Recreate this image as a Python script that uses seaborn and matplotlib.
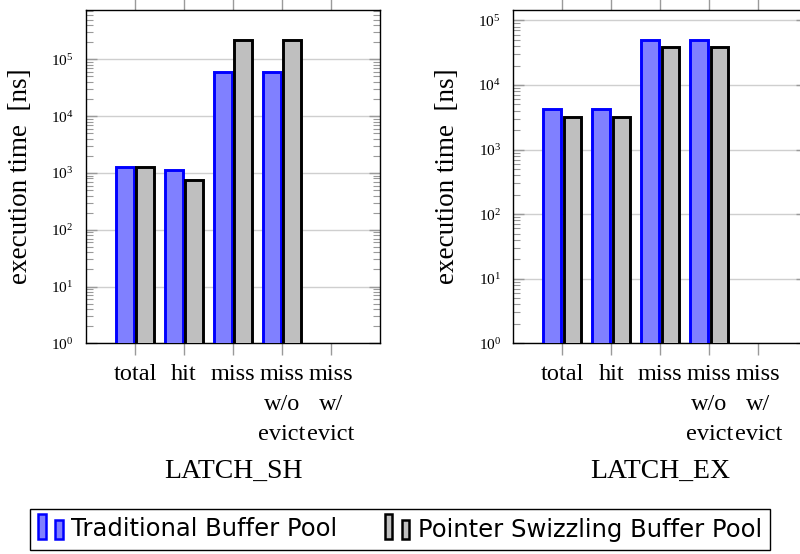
import numpy as np
import pandas as pd
import seaborn as sns
import matplotlib
matplotlib.use("Agg")
import matplotlib.pyplot as plt
from matplotlib.patches import Rectangle
from matplotlib.legend_handler import HandlerBase
from matplotlib.ticker import LogLocator, LogFormatterMathtext, NullFormatter

# ---- data -------------------------------------------------------------
categories = ["total", "hit", "miss", "miss\nw/o\nevict", "miss\nw/\nevict"]
pools = ["Traditional Buffer Pool", "Pointer Swizzling Buffer Pool"]

latch_sh_traditional = [1270, 1110, 59700, 59700, np.nan]
latch_sh_swizzling = [1270, 760, 216000, 216000, np.nan]

latch_ex_traditional = [4200, 4200, 50000, 50000, np.nan]
latch_ex_swizzling = [3230, 3230, 38400, 38400, np.nan]

panel_titles = ["LATCH_SH", "LATCH_EX"]

# ---- style ------------------------------------------------------------
sns.set_style("white")
plt.rcParams["font.family"] = ["Liberation Serif", "DejaVu Serif"]
plt.rcParams["mathtext.fontset"] = "custom"
plt.rcParams["mathtext.rm"] = "Liberation Serif"
plt.rcParams["mathtext.it"] = "Liberation Serif:italic"
plt.rcParams["text.color"] = "black"
plt.rcParams["axes.labelcolor"] = "black"

fill_colors = ["#8080ff", "#bfbfbf"]
edge_colors = ["#0000ff", "#000000"]
tick_gray = "#9a9a9a"


def panel_frame(trad, swz):
    df = pd.DataFrame({
        "operation": categories * 2,
        "time": list(trad) + list(swz),
        "pool": [pools[0]] * len(categories) + [pools[1]] * len(categories),
    })
    return df.dropna()


class PairedBarHandler(HandlerBase):
    """Legend key drawn as a pair of small bars."""

    def create_artists(self, legend, orig_handle, xdescent, ydescent,
                       width, height, fontsize, trans):
        fc = orig_handle.get_facecolor()
        ec = orig_handle.get_edgecolor()
        bw = width * 0.3
        x0 = -xdescent
        y0 = -ydescent - height * 0.15
        r1 = Rectangle((x0, y0), bw, height * 1.45, facecolor=fc,
                       edgecolor=ec, linewidth=1.8, transform=trans)
        r2 = Rectangle((x0 + width * 0.66, y0), bw, height * 1.12,
                       facecolor=fc, edgecolor=ec, linewidth=1.8,
                       transform=trans)
        return [r1, r2]


fig = plt.figure(figsize=(8.0, 5.54), dpi=100)

ax_w = 294 / 800
ax_b = 1 - 343.3 / 554
ax_h = (343.3 - 10) / 554
panels = [
    (86 / 800, latch_sh_traditional, latch_sh_swizzling, 7.4e5),
    (513.3 / 800, latch_ex_traditional, latch_ex_swizzling, 1.45e5),
]

for (x0, trad, swz, ytop), title in zip(panels, panel_titles):
    ax = fig.add_axes([x0, ax_b, ax_w, ax_h])
    df = panel_frame(trad, swz)
    sns.barplot(data=df, x="operation", y="time", hue="pool",
                order=categories, hue_order=pools, palette=fill_colors,
                saturation=1, width=0.84, gap=0.14, errorbar=None,
                legend=False, ax=ax, zorder=3)
    for container, ec in zip(ax.containers, edge_colors):
        for bar in container:
            bar.set_edgecolor(ec)
            bar.set_linewidth(2.1)

    ax.set_yscale("log")
    ax.set_xlim(-1, 5)
    ax.set_ylim(1, ytop)
    ax.set_axisbelow(True)
    ax.yaxis.grid(True, which="major", color="#cfcfcf", linewidth=1.0)
    ax.xaxis.grid(False)

    ax.yaxis.set_major_locator(LogLocator(base=10, numticks=12))
    ax.yaxis.set_major_formatter(LogFormatterMathtext())
    ax.yaxis.set_minor_locator(LogLocator(base=10, subs=np.arange(2, 10), numticks=12))
    ax.yaxis.set_minor_formatter(NullFormatter())

    ax.tick_params(axis="x", which="major", direction="out", top=True,
                   bottom=True, length=8.6, width=1.0, color=tick_gray,
                   labelcolor="black", labelsize=17.5, pad=6.5)
    ax.tick_params(axis="y", which="major", direction="in", left=True,
                   right=True, length=8, width=1.0, color=tick_gray,
                   labelcolor="black", labelsize=11, pad=9)
    ax.tick_params(axis="y", which="minor", direction="in", left=True,
                   right=True, length=5, width=0.8, color=tick_gray)
    for lbl in ax.get_xticklabels():
        lbl.set_linespacing(1.55)

    for sp in ax.spines.values():
        sp.set_visible(True)
        sp.set_color("black")
        sp.set_linewidth(1.0)

    ax.set_xlabel("")
    ax.set_ylabel("execution time  [ns]", fontsize=19.5)
    ax.yaxis.set_label_coords(-0.18, 0.5)

    fig.text(x0 + ax_w / 2, 1 - 478 / 554, title, ha="center",
             va="baseline", fontsize=20)

handles = [Rectangle((0, 0), 1, 1, facecolor=fc, edgecolor=ec)
           for fc, ec in zip(fill_colors, edge_colors)]
leg = fig.legend(handles, pools, loc="center",
                 bbox_to_anchor=(0.5, 1 - 529.5 / 554),
                 ncol=2, frameon=True, fancybox=False, framealpha=1,
                 edgecolor="black", handlelength=1.05, handleheight=0.7,
                 handletextpad=0.3, columnspacing=1.95, borderpad=0.35,
                 prop={"family": "DejaVu Sans", "size": 17.5},
                 handler_map={Rectangle: PairedBarHandler()})
leg.get_frame().set_linewidth(1.0)
for t in leg.get_texts():
    t.set_color("black")

fig.savefig("out.png", dpi=100)
